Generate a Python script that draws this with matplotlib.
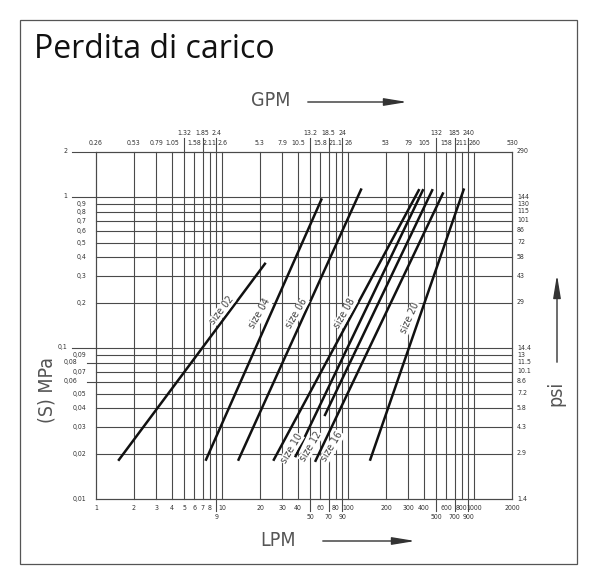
import numpy as np
import matplotlib.pyplot as plt
from matplotlib.patches import Rectangle, FancyArrowPatch

W, H = 597, 584

# x grid: flow in LPM, with matching GPM labels on top
lpm_ticks = [1, 2, 3, 4, 5, 6, 7, 8, 9, 10,
             20, 30, 40, 50, 60, 70, 80, 90, 100,
             200, 300, 400, 500, 600, 700, 800, 900, 1000, 2000]
gpm_labels = ["0.26", "0.53", "0.79", "1.05", "1.32", "1.58", "1.85", "2.11", "2.4", "2.6",
              "5.3", "7.9", "10.5", "13.2", "15.8", "18.5", "21.1", "24", "26",
              "53", "79", "105", "132", "158", "185", "211", "240", "260", "530"]
lpm_low = [9, 50, 70, 90, 500, 700, 900]
gpm_high = [5, 7, 9, 50, 70, 90, 500, 700, 900]

# y grid: pressure drop in MPa, with psi on the right
mpa_ticks = [0.01, 0.02, 0.03, 0.04, 0.05, 0.06, 0.07, 0.08, 0.09, 0.1,
             0.2, 0.3, 0.4, 0.5, 0.6, 0.7, 0.8, 0.9, 1, 2]
mpa_labels = ["0,01", "0,02", "0,03", "0,04", "0,05", "0,06", "0,07", "0,08", "0,09", "0,1",
              "0,2", "0,3", "0,4", "0,5", "0,6", "0,7", "0,8", "0,9", "1", "2"]
psi_labels = ["1.4", "2.9", "4.3", "5.8", "7.2", "8.6", "10.1", "11.5", "13", "14.4",
              "29", "43", "58", "72", "86", "101", "115", "130", "144", "290"]
mpa_far = [2, 1, 0.1]
mpa_mid = [0.08, 0.06]

# valve sizes: (LPM start, MPa start) -> (LPM end, MPa end)
sizes = ["size 02", "size 04", "size 06", "size 08", "size 10", "size 12", "size 16", "size 20"]
q_start = [1.5, 7.4, 13.4, 25.5, 38, 54.7, 65, 149]
dp_start = [0.018, 0.018, 0.018, 0.018, 0.019, 0.0177, 0.0356, 0.018]
q_end = [22.2, 62, 128, 368, 396, 571, 470, 833]
dp_end = [0.369, 0.985, 1.147, 1.135, 1.135, 1.08, 1.135, 1.147]

lab_q = [9.95, 20.0, 39.2, 94.7, 35.7, 50.6, 75, 310]
lab_dp = [0.179, 0.17, 0.171, 0.171, 0.0216, 0.0223, 0.0223, 0.159]
lab_rot = [52, 60, 60, 60, 59, 59, 59, 66]

grid_c = "#4a4a4a"
txt_c = "#333333"
small = dict(family="DejaVu Sans", fontstretch="condensed", fontsize=5.0, color=txt_c)


def fig_xy(x, y):
    return x / W, 1 - y / H


fig = plt.figure(figsize=(W / 100, H / 100), dpi=100)
fig.patches.append(Rectangle(fig_xy(20, 564), 557 / W, 544 / H, transform=fig.transFigure,
                             fill=False, edgecolor="#555555", linewidth=0.9))

left, right, top, bottom = 96, 512, 152, 499.3
ax = fig.add_axes([left / W, 1 - bottom / H, (right - left) / W, (bottom - top) / H])
ax.set_xscale("log")
ax.set_yscale("log")
ax.set_xlim(1, 2000)
ax.set_ylim(0.01, 2)
ax.set_xticks([])
ax.set_yticks([])
ax.minorticks_off()
for s in ax.spines.values():
    s.set_color(grid_c)
    s.set_linewidth(0.8)

xt = ax.get_xaxis_transform()
yt = ax.get_yaxis_transform()

for v, g in zip(lpm_ticks, gpm_labels):
    y0 = -0.035 if v in lpm_low else 0
    y1 = 1.04 if v in gpm_high else 1
    ax.plot([v, v], [y0, y1], transform=xt, color=grid_c, lw=0.8, clip_on=False)
    ax.text(v, -0.025 if v not in lpm_low else -0.05, str(v), transform=xt,
            ha="center", va="center", **small)
    ax.text(v, 1.025 if v not in gpm_high else 1.055, g, transform=xt,
            ha="center", va="center", **small)

for v, m, p in zip(mpa_ticks, mpa_labels, psi_labels):
    if v in mpa_far:
        x0, lx, dy = -0.058, -0.068, 1.02
    elif v in mpa_mid:
        x0, lx, dy = -0.022, -0.044, 1.02
    else:
        x0, lx, dy = 0, -0.024, 1.0
    ax.plot([x0, 1], [v, v], transform=yt, color=grid_c, lw=0.8, clip_on=False)
    ax.text(lx, v * dy, m, transform=yt, ha="right", va="center", **small)
    ax.text(1.012, v * 1.01, p, transform=yt, ha="left", va="center", **small)

for i, name in enumerate(sizes):
    ax.plot([q_start[i], q_end[i]], [dp_start[i], dp_end[i]], color="#111111",
            lw=1.8, solid_capstyle="butt")
    ax.text(lab_q[i], lab_dp[i], name, rotation=lab_rot[i], ha="center", va="center",
            fontsize=7.5, fontstretch="condensed", color="#444444", rotation_mode="anchor",
            bbox=dict(facecolor="white", edgecolor="none", pad=0.3))

fig.text(*fig_xy(34, 50), "Perdita di carico", family="Open Sans", fontsize=23,
         ha="left", va="center", color="#111111")

lab_big = dict(family="DejaVu Sans", fontstretch="condensed", fontsize=14,
               color="#555555", ha="center", va="center")
fig.text(*fig_xy(271, 101), "GPM", **lab_big)
fig.text(*fig_xy(278, 540), "LPM", **lab_big)
fig.text(*fig_xy(47, 390), "(S) MPa", rotation=90, **lab_big)
fig.text(*fig_xy(556, 393), "psi", rotation=90, **lab_big)

arrow_kw = dict(transform=fig.transFigure, arrowstyle="-|>,head_length=14,head_width=2.3",
                mutation_scale=1, color="#333333", lw=1)
fig.patches.append(FancyArrowPatch(fig_xy(305, 102), fig_xy(410, 102), **arrow_kw))
fig.patches.append(FancyArrowPatch(fig_xy(320, 541), fig_xy(418, 541), **arrow_kw))
fig.patches.append(FancyArrowPatch(fig_xy(557, 365), fig_xy(557, 272), **arrow_kw))

fig.savefig("out.png", dpi=100)
